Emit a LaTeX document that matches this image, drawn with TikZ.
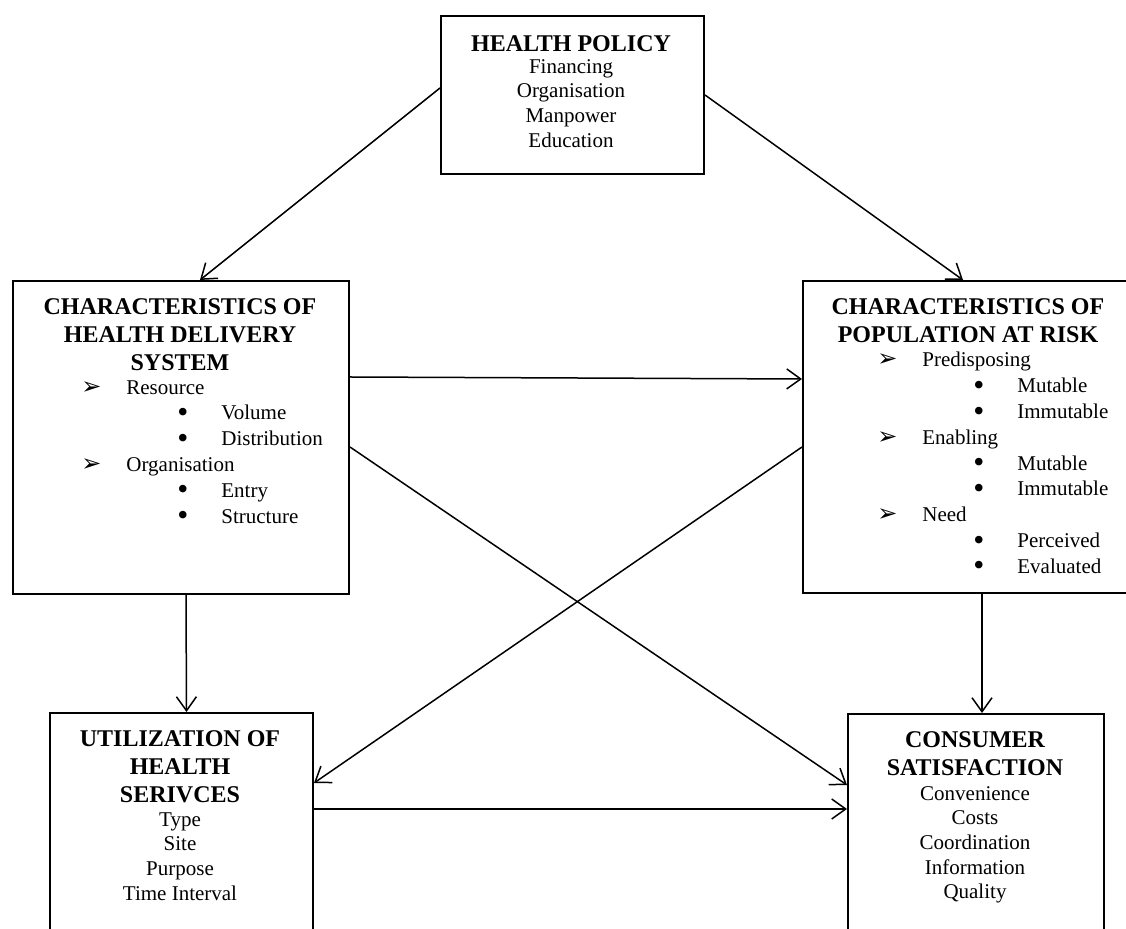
\documentclass[tikz,border=0pt]{standalone}
\usepackage{fontspec}
\usepackage{graphicx}
\setmainfont{Liberation Serif}
\newfontfamily\dingfont{DejaVu Sans}
\usetikzlibrary{arrows.meta,positioning,calc}
\newcommand{\headpoint}[1]{\makebox[22.5pt][l]{\smash{\dingfont\fontsize{12}{12}\selectfont ➢}}#1}
\newcommand{\subpoint}[1]{\hspace*{48pt}\makebox[22pt][l]{\smash{\raisebox{-0.12em}{\scalebox{1.5}{\textbullet}}}}#1}

\begin{document}
\begin{tikzpicture}[x=0.5pt,y=-0.5pt,>={Straight Barb[length=7pt,width=10pt]},
    frame/.style={draw,line width=1pt,inner sep=0pt,anchor=north west},
    boxhead/.style={anchor=north,align=center,inner sep=0pt,font=\fontsize{12}{14}\bfseries\selectfont},
    boxbody/.style={align=center,inner sep=0pt,font=\fontsize{10.5}{12.3}\selectfont},
    pointlist/.style={anchor=north west,align=left,inner sep=0pt,font=\fontsize{10.5}{12.9}\selectfont},
    link/.style={->,line width=0.75pt}]
    \useasboundingbox (0,0) rectangle (1126,929);
    \clip (0,0) rectangle (1126,929);

    % boxes
    \node[frame,minimum width=131.5pt,minimum height=79pt] (hp) at (440,15) {};
    \node[frame,minimum width=168pt,minimum height=156.5pt] (hds) at (12,280) {};
    \node[frame,minimum width=164pt,minimum height=156pt] (pop) at (802,280) {};
    \node[frame,minimum width=131.5pt,minimum height=114pt] (us) at (49,712) {};
    \node[frame,minimum width=128pt,minimum height=114pt] (cs) at (847,713) {};

    % texts
    \node[boxhead] (hphead) at (571,35) {HEALTH POLICY};
    \node[boxbody,below=3.5pt of hphead] (hpbody) {Financing\\Organisation\\Manpower\\Education};
    \node[boxhead] (hdshead) at (180,298) {CHARACTERISTICS OF\\HEALTH DELIVERY\\SYSTEM};
    \node[pointlist] (hdslist) at (81,380) {\headpoint{Resource}\\\subpoint{Volume}\\\subpoint{Distribution}\\
      \headpoint{Organisation}\\\subpoint{Entry}\\\subpoint{Structure}};
    \node[boxhead] (pophead) at (968,298) {CHARACTERISTICS OF\\POPULATION AT RISK};
    \node[pointlist] (poplist) at (877,352) {\headpoint{Predisposing}\\\subpoint{Mutable}\\\subpoint{Immutable}\\
      \headpoint{Enabling}\\\subpoint{Mutable}\\\subpoint{Immutable}\\
      \headpoint{Need}\\\subpoint{Perceived}\\\subpoint{Evaluated}};
    \node[boxhead] (ushead) at (180,730) {UTILIZATION OF\\HEALTH\\SERIVCES};
    \node[boxbody,below=4.5pt of ushead] (usbody) {Type\\Site\\Purpose\\Time Interval};
    \node[boxhead] (cshead) at (975,731) {CONSUMER\\SATISFACTION};
    \node[boxbody,below=5pt of cshead] (csbody) {Convenience\\Costs\\Coordination\\Information\\Quality};

    % connectors
    \draw[link] ([yshift=-36.5pt]hp.north west) -- ([xshift=94pt]hds.north west);
    \draw[link] ([yshift=-40pt]hp.north east) -- ([xshift=80.5pt]pop.north west);
    \draw[link] ([yshift=-48.5pt]hds.north east) -- ([yshift=-49.5pt]pop.north west);
    \draw[link] ([yshift=-83.5pt]hds.north east) -- ([yshift=-36pt]cs.north west);
    \draw[link] ([yshift=-83.5pt]pop.north west) -- ([yshift=-35.5pt]us.north east);
    \draw[link] ([xshift=2.5pt]hds.south) -- ([xshift=2.5pt]us.north);
    \draw[link] ([xshift=90pt]pop.south west) -- ([xshift=90pt]pop.south west |- cs.north);
    \draw[link] ([yshift=-48.5pt]us.north east) -- ([yshift=-48pt]cs.north west);
\end{tikzpicture}
\end{document}
